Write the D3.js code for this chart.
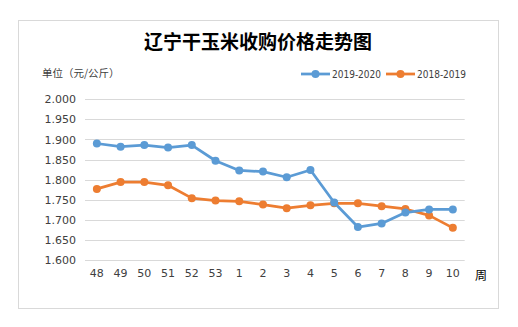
<!DOCTYPE html>
<html>
<head>
<meta charset="utf-8">
<script src="https://cdn.jsdelivr.net/npm/d3@7"></script>
<style>
  html, body { margin: 0; padding: 0; background: #fff; }
  svg { display: block; }
  text { font-family: "DejaVu Sans", "Noto Sans CJK SC", sans-serif; }
</style>
</head>
<body>
<svg id="chart" width="518" height="327"></svg>
<script>
// Weekly purchase prices of dry corn in Liaoning (yuan / jin)
const weeks = ["48", "49", "50", "51", "52", "53", "1", "2", "3", "4", "5", "6", "7", "8", "9", "10"];
const season2019 = [1.890, 1.882, 1.886, 1.880, 1.886, 1.847, 1.823, 1.820, 1.806, 1.824, 1.743, 1.682, 1.691, 1.718, 1.726, 1.726];
const season2018 = [1.777, 1.794, 1.794, 1.786, 1.754, 1.748, 1.746, 1.738, 1.729, 1.736, 1.741, 1.741, 1.734, 1.727, 1.711, 1.680];
const yTicks = [1.6, 1.65, 1.7, 1.75, 1.8, 1.85, 1.9, 1.95, 2.0];
const seriesNames = ["2019-2020", "2018-2019"];
const seriesColors = ["#5B9BD5", "#ED7D31"];

const svg = d3.select("#chart");
const cjk = "'Noto Sans CJK SC', sans-serif";

// frame
svg.append("rect")
  .attr("x", 18.5).attr("y", 20.5).attr("width", 480).attr("height", 288)
  .attr("fill", "#fff").attr("stroke", "#d9d9d9").attr("stroke-width", 1);

// title
svg.append("text")
  .attr("x", 258).attr("y", 49)
  .attr("text-anchor", "middle")
  .style("font-family", cjk)
  .style("font-weight", "bold")
  .style("font-size", "19px")
  .attr("fill", "#000")
  .text("辽宁干玉米收购价格走势图");

// unit label
svg.append("text")
  .attr("x", 42).attr("y", 77)
  .style("font-family", cjk)
  .style("font-size", "10.5px")
  .attr("fill", "#404040")
  .text("单位（元/公斤）");

const x = d3.scaleBand().domain(weeks).range([85, 464.7]);
const y = d3.scaleLinear().domain([1.6, 2.0]).range([260, 99.3]);

// horizontal gridlines
svg.append("g")
  .selectAll("line")
  .data(yTicks)
  .join("line")
  .attr("x1", 85).attr("x2", 464.7)
  .attr("y1", d => Math.round(y(d)) + 0.5)
  .attr("y2", d => Math.round(y(d)) + 0.5)
  .attr("stroke", "#d9d9d9").attr("stroke-width", 1);

// y axis labels
const yAxis = d3.axisLeft(y).tickValues(yTicks).tickFormat(d3.format(".3f")).tickSize(0).tickPadding(0);
const gy = svg.append("g").attr("transform", "translate(76,0)").call(yAxis);
gy.select(".domain").remove();
gy.selectAll("text")
  .style("font-family", "'DejaVu Sans', sans-serif")
  .style("font-size", "11px")
  .attr("fill", "#404040");

// x axis labels
const xAxis = d3.axisBottom(x).tickSize(0).tickPadding(0);
const gx = svg.append("g").attr("transform", "translate(0,269)").call(xAxis);
gx.select(".domain").remove();
gx.selectAll("text")
  .style("font-family", "'DejaVu Sans', sans-serif")
  .style("font-size", "11px")
  .attr("fill", "#404040");

svg.append("text")
  .attr("x", 481).attr("y", 279.5)
  .attr("text-anchor", "middle")
  .style("font-family", cjk)
  .style("font-size", "12px")
  .attr("fill", "#000")
  .text("周");

// series lines and markers
const line = d3.line()
  .x((d, i) => x(weeks[i]) + x.bandwidth() / 2)
  .y(d => y(d));

[season2018, season2019].forEach((vals, k) => {
  const idx = k === 0 ? 1 : 0;
  const g = svg.append("g");
  g.append("path")
    .datum(vals)
    .attr("d", line)
    .attr("fill", "none")
    .attr("stroke", seriesColors[idx])
    .attr("stroke-width", 2.75)
    .attr("stroke-linejoin", "round")
    .attr("stroke-linecap", "round");
  g.selectAll("circle")
    .data(vals)
    .join("circle")
    .attr("cx", (d, i) => x(weeks[i]) + x.bandwidth() / 2)
    .attr("cy", d => y(d))
    .attr("r", 4)
    .attr("fill", seriesColors[idx]);
});

// legend
const legend = svg.append("g");
const legendX = [301, 386];
seriesNames.forEach((name, i) => {
  const lg = legend.append("g").attr("transform", `translate(${legendX[i]},74)`);
  lg.append("line")
    .attr("x1", 0).attr("x2", 29).attr("y1", 0).attr("y2", 0)
    .attr("stroke", seriesColors[i]).attr("stroke-width", 2.75);
  lg.append("circle").attr("cx", 14.5).attr("cy", 0).attr("r", 4).attr("fill", seriesColors[i]);
  lg.append("text")
    .attr("x", 31).attr("y", 4)
    .style("font-family", "'DejaVu Sans', sans-serif")
    .style("font-size", "10.5px")
    .attr("textLength", 49)
    .attr("lengthAdjust", "spacingAndGlyphs")
    .attr("fill", "#404040")
    .text(name);
});
</script>
</body>
</html>
